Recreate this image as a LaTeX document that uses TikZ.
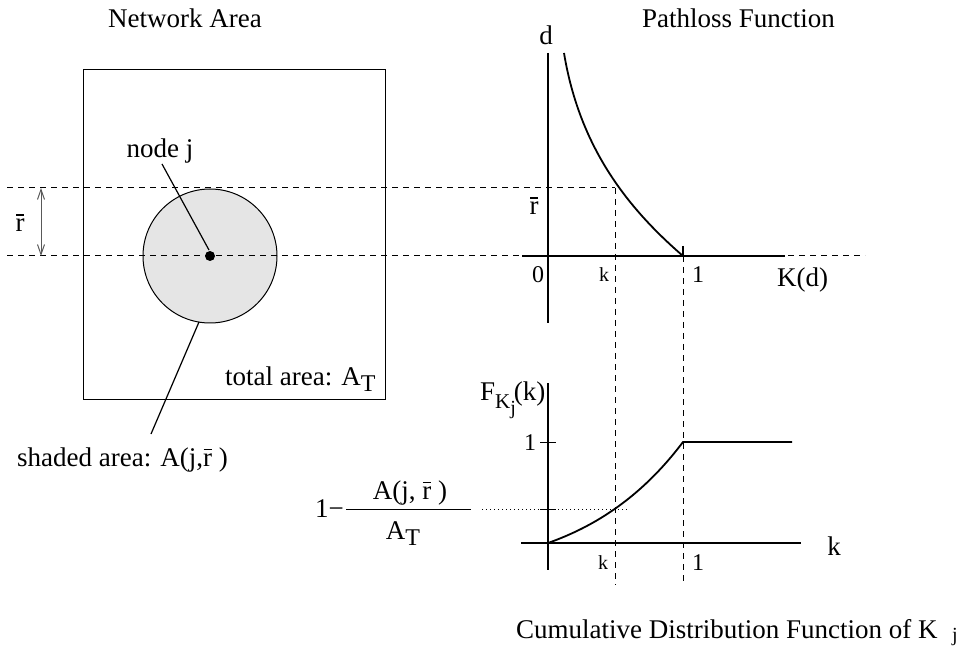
\documentclass[tikz,border=0pt]{standalone}
\usepackage{fontspec}
\setmainfont{Liberation Serif}
\usetikzlibrary{arrows.meta}
\newcommand\rbar{\leavevmode\rlap{\hspace{0.02em}\raisebox{0.6em}{\rule{0.3em}{1.3pt}}}r}
\newcommand\subT{\raisebox{-6pt}{\fontsize{24}{24}\selectfont T}}
\begin{document}
\begin{tikzpicture}[x=1pt,y=-1pt,
  lbl/.style={inner sep=0pt, font=\fontsize{27}{32}\selectfont},
  smalllbl/.style={inner sep=0pt, font=\fontsize{20}{24}\selectfont},
  midlbl/.style={inner sep=0pt, font=\fontsize{24}{28}\selectfont},
  axisline/.style={line width=1.4pt},
  guide/.style={line width=1pt, dash pattern=on 6pt off 5pt},
  dotline/.style={line width=1pt, dash pattern=on 1.2pt off 2.8pt},
  fcurve/.style={line width=1.8pt},
  leader/.style={line width=1.2pt},
  barb/.style={{Straight Barb[length=10pt,width=7pt]}-{Straight Barb[length=10pt,width=7pt]}}
]
\useasboundingbox (0,0) rectangle (962,647);

% titles
\node[lbl, anchor=base] (t1) at (185,28) {Network Area};
\node[lbl, anchor=base west] (t2) at (642,28) {Pathloss Function};

% network area
\node[draw, line width=1pt, minimum width=302pt, minimum height=329pt, inner sep=0pt] (area) at (234,234.5) {};
\node[circle, draw, line width=1pt, fill=black!10, minimum size=134pt, inner sep=0pt] (disc) at (210,256) {};
\coordinate (ulL) at (7,188); \coordinate (ulR) at (615,188);
\coordinate (llL) at (7,256); \coordinate (llR) at (865,256);
\draw[guide] (ulL) -- (ulR);
\draw[guide] (llL) -- (llR);
\fill (disc.center) circle (5pt);
\node[lbl, anchor=base] (nj) at (160,158) {node j};
\coordinate (njtip) at (209,250);
\coordinate (njs) at (162,164);
\draw[leader] (njs) -- (njtip);
\node[lbl, anchor=base west] (sa) at (17,466) {shaded area: A(j,\rbar\ )};
\coordinate (satip) at (199,322);
\coordinate (sas) at (151,434);
\draw[leader] (sas) -- (satip);
\node[lbl, anchor=base west] (ta) at (225,385) {total area: A\subT};
\coordinate (ra) at (41,188); \coordinate (rb) at (41,256);
\draw[barb, line width=1pt, black!65] (ra) -- (rb);
\node[lbl, anchor=base] (rl) at (20,232) {\rbar};

% pathloss plot
\coordinate (pTop) at (548,53); \coordinate (pBot) at (548,323);
\coordinate (pXl) at (522,256); \coordinate (pXr) at (785,256);
\draw[axisline] (pTop) -- (pBot);
\draw[axisline] (pXl) -- (pXr);
\coordinate (c0) at (564,53); \coordinate (c1) at (683,256);
\draw[fcurve] (c0) .. controls (580,150) and (630,210) .. (c1);
\coordinate (tk1) at (683,246);
\draw[axisline] (tk1) -- (c1);
\coordinate (kTop) at (615,188); \coordinate (kBot) at (615,585);
\coordinate (oBot) at (683,585);
\draw[guide] (kTop) -- (kBot);
\draw[guide] (c1) -- (oBot);
\node[lbl, anchor=base] (dl) at (546,45) {d};
\node[lbl, anchor=base] (rl2) at (534,215) {\rbar};
\node[midlbl, anchor=base] (z0) at (538,283) {0};
\node[smalllbl, anchor=base] (zk) at (604,282) {k};
\node[midlbl, anchor=base] (z1) at (698,283) {1};
\node[lbl, anchor=base west] (kd) at (777,287) {K(d)};

% CDF plot
\coordinate (fTop) at (548,383); \coordinate (fBot) at (548,570);
\coordinate (fXl) at (521,543); \coordinate (fXr) at (801,543);
\draw[axisline] (fTop) -- (fBot);
\draw[axisline] (fXl) -- (fXr);
\coordinate (f0) at (548,543); \coordinate (f1) at (683,442); \coordinate (fE) at (792,442);
\draw[fcurve] (f0) .. controls (593,527) and (640,499) .. (f1) -- (fE);
\draw[line width=1pt] (540,442) -- (556,442);
\draw[line width=1pt] (540,509) -- (556,509);
\coordinate (dotL) at (482,509); \coordinate (dotR) at (628,509);
\draw[dotline] (dotL) -- (dotR);
\node[midlbl, anchor=base] (one) at (530,450) {1};
\node[smalllbl, anchor=base] (bk) at (603,569) {k};
\node[midlbl, anchor=base] (b1) at (698,570) {1};
\node[lbl, anchor=base] (rk) at (834,555) {k};
\node[lbl, anchor=base west] (fk) at (480,400) {F\raisebox{-8pt}{\fontsize{21}{21}\selectfont K}\raisebox{-14pt}{\fontsize{20}{20}\selectfont j}\hspace{-2pt}(k)};

% fraction
\node[lbl, anchor=east] (om) at (344,509) {1\char"2212};
\coordinate (frL) at (346,509); \coordinate (frR) at (471,509);
\draw[line width=1pt] (frL) -- (frR);
\node[lbl, anchor=base] (num) at (410,499) {A(j, \rbar\ )};
\node[lbl, anchor=base] (den) at (403,539) {A\subT};

% caption
\node[lbl, anchor=base west] (cap) at (516,638) {Cumulative Distribution Function of K};
\node[smalllbl, anchor=base] (capj) at (955,641) {j};
\end{tikzpicture}
\end{document}
